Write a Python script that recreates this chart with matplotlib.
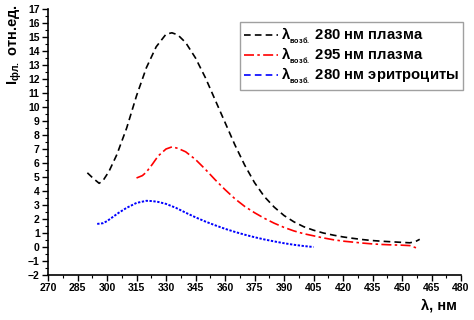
import numpy as np
import matplotlib
matplotlib.use("Agg")
import matplotlib.pyplot as plt
from matplotlib.ticker import MultipleLocator

plt.rcParams['font.family'] = ['Liberation Sans', 'DejaVu Sans']
plt.rcParams['font.weight'] = 'bold'
plt.rcParams['mathtext.fontset'] = 'custom'
plt.rcParams['mathtext.rm'] = 'Liberation Sans:bold'
plt.rcParams['mathtext.default'] = 'rm'

# lambda_exc 280 nm plasma
wl_280 = [290, 293, 296, 298, 301, 305, 310, 315, 320, 325, 330, 333, 336, 340,
          345, 350, 355, 360, 365, 370, 375, 380, 385, 390, 395, 400, 405, 410,
          415, 420, 425, 430, 435, 440, 445, 450, 454, 457, 459]
i_280 = [5.3, 4.9, 4.55, 4.75, 5.4, 6.6, 8.5, 10.8, 12.8, 14.3, 15.2, 15.3, 15.15, 14.6,
         13.5, 12.1, 10.5, 8.9, 7.3, 5.85, 4.6, 3.6, 2.85, 2.25, 1.8, 1.45, 1.2, 1.0,
         0.85, 0.72, 0.62, 0.53, 0.46, 0.41, 0.37, 0.33, 0.3, 0.4, 0.55]

# lambda_exc 295 nm plasma
wl_295 = [315, 318, 320, 323, 326, 330, 333, 336, 340, 345, 350, 355, 360, 365,
          370, 375, 380, 385, 390, 395, 400, 405, 410, 415, 420, 425, 430, 435,
          440, 445, 450, 454, 456, 458]
i_295 = [4.93, 5.1, 5.35, 5.9, 6.5, 7.0, 7.15, 7.05, 6.8, 6.25, 5.55, 4.8, 4.1, 3.45,
         2.9, 2.45, 2.05, 1.7, 1.4, 1.15, 0.95, 0.8, 0.65, 0.52, 0.42, 0.35, 0.28, 0.22,
         0.18, 0.15, 0.13, 0.1, 0.0, -0.1]

# lambda_exc 280 nm erythrocytes
wl_ery = [295, 298, 300, 303, 306, 310, 315, 320, 323, 326, 330, 335, 340, 345,
          350, 355, 360, 365, 370, 375, 380, 385, 390, 395, 400, 405]
i_ery = [1.65, 1.7, 1.85, 2.15, 2.45, 2.8, 3.15, 3.3, 3.28, 3.22, 3.08, 2.8, 2.45, 2.12,
         1.82, 1.55, 1.3, 1.08, 0.88, 0.7, 0.54, 0.4, 0.27, 0.16, 0.07, 0.0]

labels = [r"λ$_{_{возб.}}$ 280 нм плазма",
          r"λ$_{_{возб.}}$ 295 нм плазма",
          r"λ$_{_{возб.}}$ 280 нм эритроциты"]

fig = plt.figure(figsize=(4.74, 3.2), dpi=100)
ax = fig.add_axes([0.1013, 0.1406, 0.8713, 0.8313])

ax.plot(wl_280, i_280, color="black", linestyle=(0, (4, 2.5)), linewidth=1.2, label=labels[0])
ax.plot(wl_295, i_295, color="red", linestyle=(0, (6, 2, 1.5, 2)), linewidth=1.2, label=labels[1])
ax.plot(wl_ery, i_ery, color="blue", linestyle=(0, (4, 2.5)), linewidth=1.2, label=labels[2])

ax.set_xlim(270, 480)
ax.set_ylim(-2, 17)
ax.xaxis.set_major_locator(MultipleLocator(15))
ax.xaxis.set_minor_locator(MultipleLocator(7.5))
ax.yaxis.set_major_locator(MultipleLocator(1))
ax.yaxis.set_minor_locator(MultipleLocator(0.5))
ax.spines['top'].set_visible(False)
ax.spines['right'].set_visible(False)
ax.tick_params(which='major', direction='out', length=4, width=1, labelsize=7.5, pad=2)
ax.tick_params(which='minor', direction='out', length=2, width=0.8)
for s in ['left', 'bottom']:
    ax.spines[s].set_linewidth(1.2)

leg = ax.legend(loc='upper left', bbox_to_anchor=(0.506, 0.931),
                bbox_transform=fig.transFigure, fontsize=10.7,
                frameon=True, fancybox=False, handlelength=2.3, handletextpad=0.25,
                labelspacing=0.0, borderpad=0.25, borderaxespad=0)
leg.get_frame().set_edgecolor("#888888")
leg.get_frame().set_linewidth(1.0)

# blue curve itself is drawn dotted, its legend key stays dashed
ax.lines[2].set_linestyle((0, (1.2, 0.8)))
ax.lines[2].set_linewidth(1.4)

fig.text(0.032, 0.985, r"I$_{фл.}$ отн.ед.", rotation=90, ha='center', va='top', fontsize=10.5)
fig.text(0.925, 0.045, "λ, нм", ha='center', va='center', fontsize=10.5)

fig.savefig("out.png", dpi=100)
